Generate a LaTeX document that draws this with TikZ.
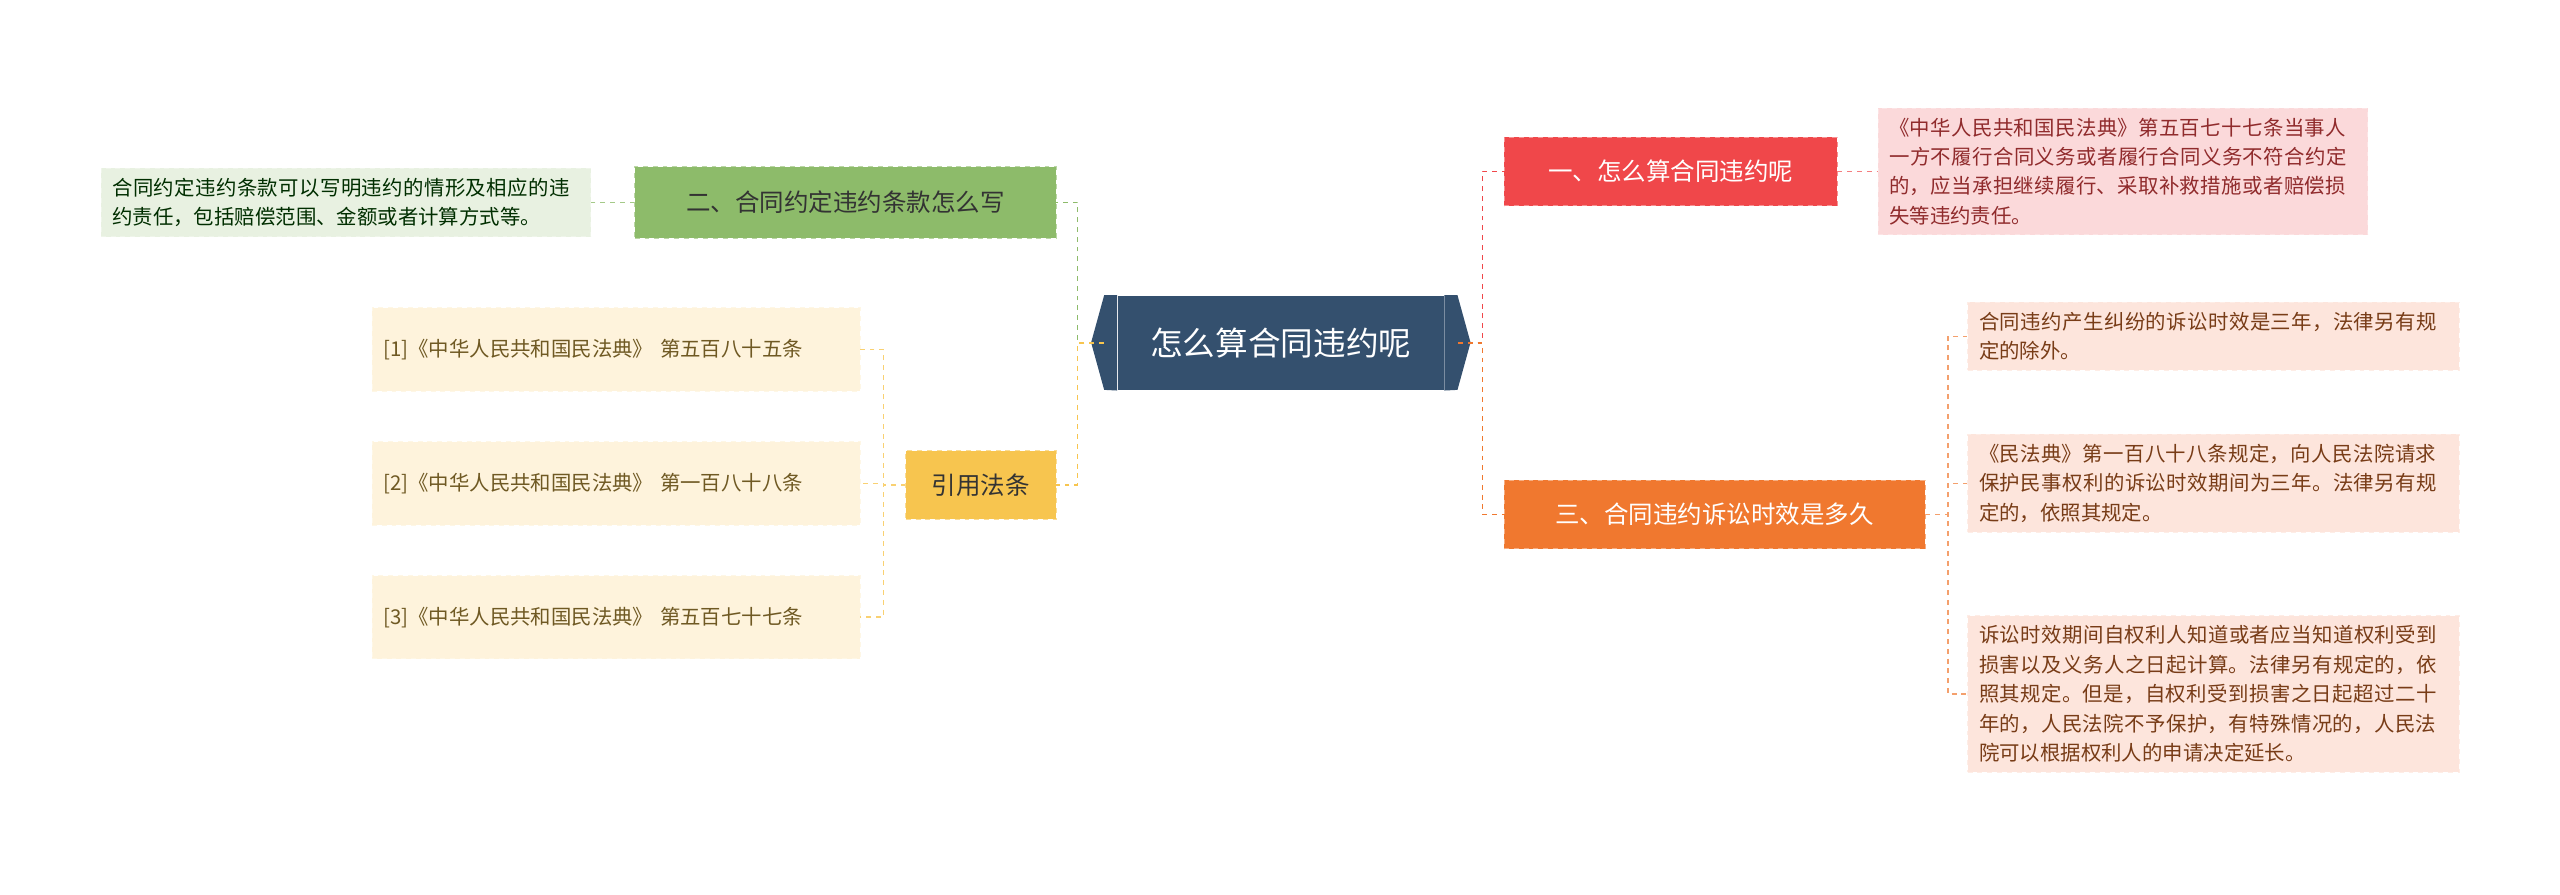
\documentclass[tikz,border=0pt]{standalone}
\usepackage{fontspec}
\setmainfont{Noto Sans CJK SC}
\XeTeXlinebreaklocale "zh"
\XeTeXlinebreakskip=0pt plus 1pt
\definecolor{cen}{HTML}{34506E}
\definecolor{red1}{HTML}{F0474A}
\definecolor{red1l}{HTML}{FBD9DA}
\definecolor{or1}{HTML}{F0782F}
\definecolor{or1l}{HTML}{FDE5DC}
\definecolor{gr1}{HTML}{8DBB6A}
\definecolor{gr1l}{HTML}{E8F1E1}
\definecolor{ye1}{HTML}{F7C54F}
\definecolor{ye1l}{HTML}{FEF3DC}
\begin{document}
\begin{tikzpicture}[x=1pt,y=-1pt,
  topic/.style={draw=#1!60!white,dashed,fill=#1,minimum height=42pt,font=\fontsize{15}{18}\selectfont,inner xsep=8pt},
  leaf/.style={draw=#1!70!white,dashed,fill=#1,align=left,font=\fontsize{12.5}{18}\selectfont,inner xsep=7pt,inner ysep=6pt,anchor=west},
  con/.style={draw=#1,dashed,line width=0.9pt}]
\useasboundingbox (0,0) rectangle (1568,548);
% center
\node[fill=cen,text=white,font=\fontsize{20}{24}\selectfont,minimum height=58pt,minimum width=200pt] (c) at (784.5,210) {怎么算合同违约呢};
\fill[cen] (c.north west) -- ++(-8,0) -- ++(-8,29) -- ++(8,29) -- (c.south west) -- cycle;
\fill[cen] (c.north east) -- ++(8,0) -- ++(8,29) -- ++(-8,29) -- (c.south east) -- cycle;
\coordinate (cl) at (676,210);
\coordinate (cr) at (893,210);
% right
\node[topic=red1,text=white,anchor=west,minimum width=204pt] (r1) at (921,105) {一、怎么算合同违约呢};
\node[leaf=red1l,text=red1!60!black,text width=286pt] (r1a) at (1150,105) {《中华人民共和国民法典》第五百七十七条当事人一方不履行合同义务或者履行合同义务不符合约定的，应当承担继续履行、采取补救措施或者赔偿损失等违约责任。};
\node[topic=or1,text=white,anchor=west,minimum width=258pt] (r3) at (921,315) {三、合同违约诉讼时效是多久};
\node[leaf=or1l,text=or1!50!black,text width=287pt] (r3a) at (1205,206) {合同违约产生纠纷的诉讼时效是三年，法律另有规定的除外。};
\node[leaf=or1l,text=or1!50!black,text width=287pt] (r3b) at (1205,296) {《民法典》第一百八十八条规定，向人民法院请求保护民事权利的诉讼时效期间为三年。法律另有规定的，依照其规定。};
\node[leaf=or1l,text=or1!50!black,text width=287pt] (r3c) at (1205,425) {诉讼时效期间自权利人知道或者应当知道权利受到损害以及义务人之日起计算。法律另有规定的，依照其规定。但是，自权利受到损害之日起超过二十年的，人民法院不予保护，有特殊情况的，人民法院可以根据权利人的申请决定延长。};
% left
\node[topic=gr1,text=black!80,anchor=east,minimum width=258pt,minimum height=44pt] (l1) at (647,124) {二、合同约定违约条款怎么写};
\node[leaf=gr1l,text=black!70!green!60!black,text width=286pt,anchor=east] (l1a) at (362,124) {合同约定违约条款可以写明违约的情形及相应的违约责任，包括赔偿范围、金额或者计算方式等。};
\node[topic=ye1,text=black!80,anchor=east,minimum width=92pt] (l2) at (647,297) {引用法条};
\foreach \n/\y/\t in {a/214/{[1]《中华人民共和国民法典》 第五百八十五条},b/296/{[2]《中华人民共和国民法典》 第一百八十八条},c/378/{[3]《中华人民共和国民法典》 第五百七十七条}}
  \node[leaf=ye1l,text=ye1!45!black,text width=285pt,anchor=east,minimum height=51pt] (l2\n) at (527,\y) {\t};
% connectors
\draw[con=red1] (cr) -- (908,210) |- (r1.west);
\draw[con=or1] (cr) -- (908,210) |- (r3.west);
\draw[con=red1!70] (r1.east) -- (r1a.west);
\foreach \n in {a,b,c} \draw[con=or1!70] (r3.east) -- (1193,315) |- (r3\n.west);
\draw[con=gr1] (cl) -- (660,210) |- (l1.east);
\draw[con=ye1] (cl) -- (660,210) |- (l2.east);
\draw[con=gr1!80] (l1.west) -- (l1a.east);
\foreach \n in {a,b,c} \draw[con=ye1!80] (l2.west) -- (541,297) |- (l2\n.east);
\end{tikzpicture}
\end{document}
